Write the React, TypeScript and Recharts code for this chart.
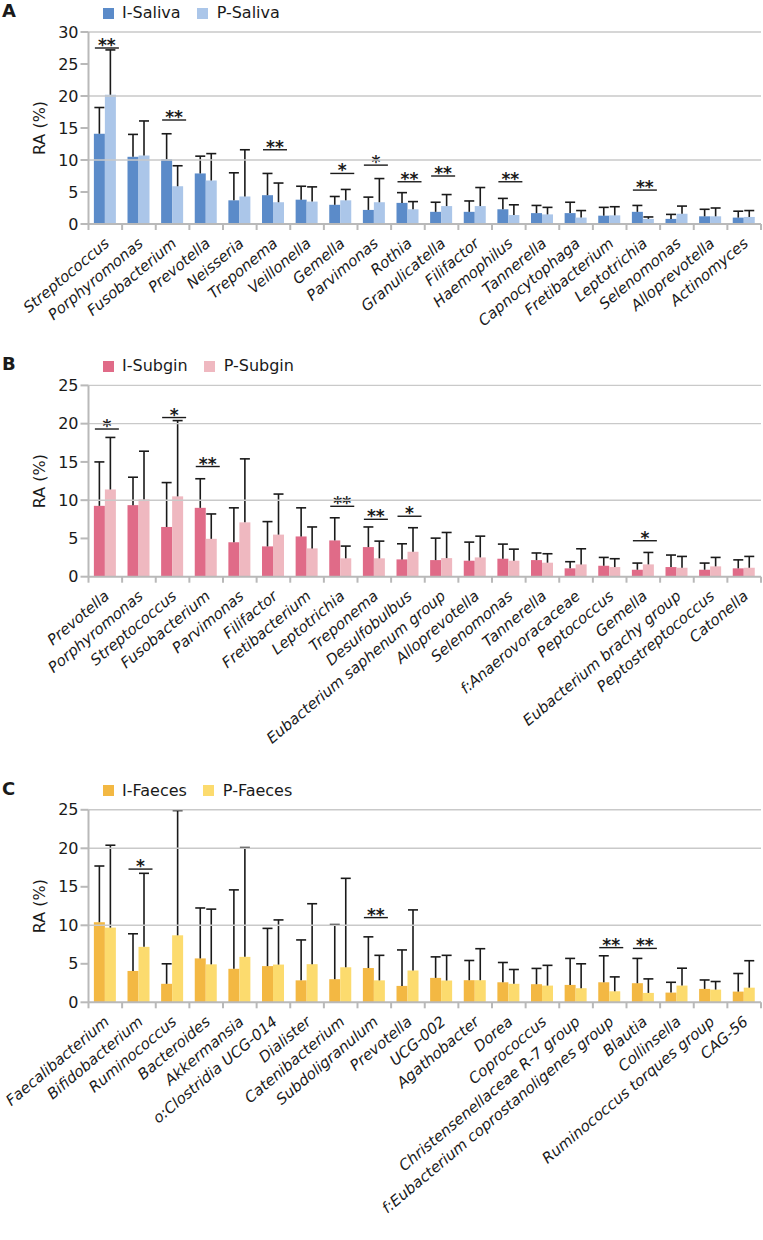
import React from "react";
import { BarChart, Bar, XAxis, YAxis, ReferenceLine } from "recharts";

// A: saliva
const salivaGenera = ["Streptococcus", "Porphyromonas", "Fusobacterium", "Prevotella", "Neisseria", "Treponema", "Veillonella", "Gemella", "Parvimonas", "Rothia", "Granulicatella", "Filifactor", "Haemophilus", "Tannerella", "Capnocytophaga", "Fretibacterium", "Leptotrichia", "Selenomonas", "Alloprevotella", "Actinomyces"];
const salivaI = [14.1, 10.5, 10.1, 7.9, 3.7, 4.5, 3.8, 3.0, 2.2, 3.3, 1.9, 1.9, 2.3, 1.7, 1.7, 1.3, 1.9, 0.8, 1.2, 1.0];
const salivaIUpper = [18.2, 14.0, 14.1, 10.6, 8.0, 7.9, 5.9, 4.3, 4.2, 4.9, 3.4, 3.6, 4.0, 2.9, 3.4, 2.6, 2.9, 1.5, 2.3, 2.0];
const salivaP = [20.2, 10.7, 5.9, 6.8, 4.3, 3.4, 3.5, 3.7, 3.4, 2.3, 2.8, 2.8, 1.4, 1.5, 1.0, 1.35, 0.8, 1.6, 1.2, 1.1];
const salivaPUpper = [27.2, 16.1, 9.1, 11.0, 11.6, 6.4, 5.8, 5.4, 7.1, 3.5, 4.6, 5.7, 3.0, 2.6, 2.1, 2.7, 1.1, 2.8, 2.5, 2.1];
const salivaSig = ["**", "", "**", "", "", "**", "", "*", "*", "**", "**", "", "**", "", "", "", "**", "", "", ""];
const salivaSigAt = [27.5, 0, 16.25, 0, 0, 11.6, 0, 7.9, 9.2, 6.6, 7.5, 0, 6.6, 0, 0, 0, 5.3, 0, 0, 0];

// B: subgingival plaque
const subginGenera = ["Prevotella", "Porphyromonas", "Streptococcus", "Fusobacterium", "Parvimonas", "Filifactor", "Fretibacterium", "Leptotrichia", "Treponema", "Desulfobulbus", "Eubacterium saphenum group", "Alloprevotella", "Selenomonas", "Tannerella", "f:Anaerovoracaceae", "Peptococcus", "Gemella", "Eubacterium brachy group", "Peptostreptococcus", "Catonella"];
const subginI = [9.26, 9.35, 6.5, 9.0, 4.5, 3.96, 5.26, 4.74, 3.87, 2.26, 2.17, 2.09, 2.35, 2.17, 1.09, 1.43, 0.91, 1.26, 0.91, 1.09];
const subginIUpper = [15.0, 13.0, 12.3, 12.8, 9.0, 7.2, 9.0, 7.7, 6.5, 4.3, 5.04, 4.52, 4.26, 3.1, 1.96, 2.52, 1.78, 2.83, 1.78, 2.2];
const subginP = [11.4, 10.1, 10.5, 4.95, 7.1, 5.5, 3.7, 2.4, 2.4, 3.26, 2.43, 2.52, 2.09, 1.83, 1.61, 1.26, 1.61, 1.17, 1.35, 1.17];
const subginPUpper = [18.2, 16.4, 20.4, 8.2, 15.4, 10.8, 6.5, 4.0, 4.65, 6.4, 5.78, 5.3, 3.6, 3.0, 3.65, 2.35, 3.17, 2.65, 2.52, 2.65];
const subginSig = ["*", "", "*", "**", "", "", "", "**", "**", "*", "", "", "", "", "", "", "*", "", "", ""];
const subginSigAt = [19.3, 0, 20.8, 14.4, 0, 0, 0, 9.2, 7.5, 7.9, 0, 0, 0, 0, 0, 0, 4.7, 0, 0, 0];

// C: faeces
const faecesGenera = ["Faecalibacterium", "Bifidobacterium", "Ruminococcus", "Bacteroides", "Akkermansia", "o:Clostridia UCG-014", "Dialister", "Catenibacterium", "Subdoligranulum", "Prevotella", "UCG-002", "Agathobacter", "Dorea", "Coprococcus", "Christensenellaceae R-7 group", "f:Eubacterium coprostanoligenes group", "Blautia", "Collinsella", "Ruminococcus torques group", "CAG-56"];
const faecesI = [10.4, 4.07, 2.4, 5.7, 4.35, 4.7, 2.85, 3.0, 4.45, 2.13, 3.17, 2.87, 2.6, 2.35, 2.26, 2.6, 2.48, 1.26, 1.74, 1.39];
const faecesIUpper = [17.7, 8.9, 5.0, 12.25, 14.6, 9.6, 8.1, 10.1, 8.5, 6.8, 5.9, 5.43, 5.17, 4.4, 5.7, 6.04, 5.7, 2.6, 2.9, 3.74];
const faecesP = [9.7, 7.2, 8.7, 4.93, 5.9, 4.9, 4.95, 4.55, 2.85, 4.13, 2.83, 2.87, 2.4, 2.17, 1.83, 1.43, 1.22, 2.17, 1.65, 1.9];
const faecesPUpper = [20.4, 16.75, 24.9, 12.1, 20.1, 10.7, 12.8, 16.1, 6.1, 12.0, 6.1, 6.96, 4.26, 4.8, 5.0, 3.3, 3.04, 4.43, 2.7, 5.4];
const faecesSig = ["", "*", "", "", "", "", "", "", "**", "", "", "", "", "", "", "**", "**", "", "", ""];
const faecesSigAt = [0, 17.3, 0, 0, 0, 0, 0, 0, 11.0, 0, 0, 0, 0, 0, 0, 7.1, 7.0, 0, 0, 0];

const ticks30 = [0, 5, 10, 15, 20, 25, 30];
const ticks25 = [0, 5, 10, 15, 20, 25];

const W = 763;
const PLOT_LEFT = 88.5;
const Y_AXIS_W = 60;
const FONT = "'DejaVu Sans', Arial, sans-serif";
const GREY = "#b9b9b9";
const GRID = "#c9c9c9";
const INK = "#1a1a1a";

function makeRows(names, iv, iu, pv, pu, sig, sigAt) {
  return names.map((name, k) => ({ name, i: iv[k], iUp: iu[k], p: pv[k], pUp: pu[k], sig: sig[k], sigAt: sigAt[k] }));
}

function barShape(fill, valueKey, upKey, withSig) {
  return (props: any) => {
    const { x, y, width, height, payload } = props;
    const v = payload[valueKey];
    const k = v > 0 ? height / v : 0;
    const base = y + height;
    const cx = x + width / 2;
    const ey = base - payload[upKey] * k;
    let sigEl = null;
    if (withSig && payload.sig) {
      const ly = base - payload.sigAt * k;
      const x1 = x - width + 1;
      const x2 = x + width + 3;
      sigEl = (
        <g>
          <line x1={x1} y1={ly} x2={x2} y2={ly} stroke={INK} strokeWidth={1.4} />
          <text x={(x1 + x2) / 2} y={ly + 3} textAnchor="middle" fontSize={17} fontWeight={700} fill={INK} fontFamily={FONT}>
            {payload.sig}
          </text>
        </g>
      );
    }
    return (
      <g>
        <rect x={x} y={y} width={width} height={height} fill={fill} />
        <line x1={cx} y1={y} x2={cx} y2={ey} stroke={INK} strokeWidth={1.6} />
        <line x1={cx - 5} y1={ey} x2={cx + 5} y2={ey} stroke={INK} strokeWidth={1.6} />
        {sigEl}
      </g>
    );
  };
}

function makeCatTick(plotBottom) {
  return (props: any) => {
    const { x, payload, index, visibleTicksCount } = props;
    const half = payload.offset || 16.8;
    const ax = x + 5;
    const ay = plotBottom + 21;
    return (
      <g>
        <line x1={x - half} y1={plotBottom} x2={x - half} y2={plotBottom + 6} stroke={GREY} strokeWidth={2} />
        {index === visibleTicksCount - 1 && (
          <line x1={x + half} y1={plotBottom} x2={x + half} y2={plotBottom + 6} stroke={GREY} strokeWidth={2} />
        )}
        <text x={ax} y={ay} textAnchor="end" transform={`rotate(-40 ${ax} ${ay})`} fontStyle="italic" fontSize={15} fill={INK} fontFamily={FONT}>
          {payload.value}
        </text>
      </g>
    );
  };
}

function YLabel({ cx, cy }: any) {
  return (
    <text x={cx} y={cy} transform={`rotate(-90 ${cx} ${cy})`} textAnchor="middle" dominantBaseline="central" fontSize={16} fill={INK} fontFamily={FONT}>
      RA (%)
    </text>
  );
}

function Panel({ letter, top, height, plotTop, plotBottom, yMax, yTicks, grid, rows, names, colors }: any) {
  return (
    <div style={{ position: "absolute", left: 0, top, width: W, height }}>
      <BarChart
        width={W}
        height={height}
        data={rows}
        margin={{ top: plotTop, right: 2, left: PLOT_LEFT - Y_AXIS_W, bottom: 0 }}
        barCategoryGap="16%"
        barGap={0}
      >
        {grid.map((g) => (
          <ReferenceLine key={g} y={g} stroke={GRID} strokeWidth={1.4} />
        ))}
        <XAxis
          dataKey="name"
          interval={0}
          height={height - plotBottom}
          tickLine={false}
          axisLine={{ stroke: GREY, strokeWidth: 2 }}
          tick={makeCatTick(plotBottom)}
        />
        <YAxis
          width={Y_AXIS_W}
          domain={[0, yMax]}
          ticks={yTicks}
          interval={0}
          tickSize={8}
          tickLine={{ stroke: GREY, strokeWidth: 2 }}
          axisLine={{ stroke: GREY, strokeWidth: 2 }}
          tick={{ fontSize: 16, fill: INK, fontFamily: FONT }}
          label={<YLabel cx={39.5} cy={(plotTop + plotBottom) / 2} />}
        />
        <YAxis
          yAxisId="edge"
          orientation="right"
          width={0}
          domain={[0, yMax]}
          tick={false}
          tickLine={false}
          axisLine={{ stroke: GREY, strokeWidth: 2 }}
        />
        <Bar dataKey="i" fill={colors[0]} isAnimationActive={false} shape={barShape(colors[0], "i", "iUp", false)} />
        <Bar dataKey="p" fill={colors[1]} isAnimationActive={false} shape={barShape(colors[1], "p", "pUp", true)} />
      </BarChart>
      <div style={{ position: "absolute", left: 2, top: plotTop - 30, fontWeight: 700, fontSize: 18, lineHeight: "18px", fontFamily: FONT, color: INK }}>
        {letter}
      </div>
      <div
        style={{
          position: "absolute",
          left: 103,
          top: plotTop - 29,
          display: "flex",
          alignItems: "center",
          fontSize: 16,
          lineHeight: "20px",
          fontFamily: FONT,
          color: INK,
        }}
      >
        <span style={{ display: "inline-block", width: 11, height: 11, background: colors[0], marginRight: 8 }} />
        <span>{names[0]}</span>
        <span style={{ display: "inline-block", width: 11, height: 11, background: colors[1], marginLeft: 16, marginRight: 9 }} />
        <span>{names[1]}</span>
      </div>
    </div>
  );
}

export default function App() {
  const rowsA = makeRows(salivaGenera, salivaI, salivaIUpper, salivaP, salivaPUpper, salivaSig, salivaSigAt);
  const rowsB = makeRows(subginGenera, subginI, subginIUpper, subginP, subginPUpper, subginSig, subginSigAt);
  const rowsC = makeRows(faecesGenera, faecesI, faecesIUpper, faecesP, faecesPUpper, faecesSig, faecesSigAt);
  return (
    <div style={{ position: "absolute", left: 0, top: 0, width: W, height: 1240, background: "#fff" }}>
      <Panel
        letter="A"
        top={0}
        height={350}
        plotTop={32}
        plotBottom={224}
        yMax={30}
        yTicks={ticks30}
        grid={[10, 20, 30]}
        rows={rowsA}
        names={["I-Saliva", "P-Saliva"]}
        colors={["#5b8bc9", "#abc6e9"]}
      />
      <Panel
        letter="B"
        top={350}
        height={425}
        plotTop={35.4}
        plotBottom={226.7}
        yMax={25}
        yTicks={ticks25}
        grid={[10, 20, 25]}
        rows={rowsB}
        names={["I-Subgin", "P-Subgin"]}
        colors={["#e06b88", "#efb8c0"]}
      />
      <Panel
        letter="C"
        top={775}
        height={465}
        plotTop={34.8}
        plotBottom={227.3}
        yMax={25}
        yTicks={ticks25}
        grid={[10, 20, 25]}
        rows={rowsC}
        names={["I-Faeces", "P-Faeces"]}
        colors={["#f3b843", "#fcdb6e"]}
      />
    </div>
  );
}
